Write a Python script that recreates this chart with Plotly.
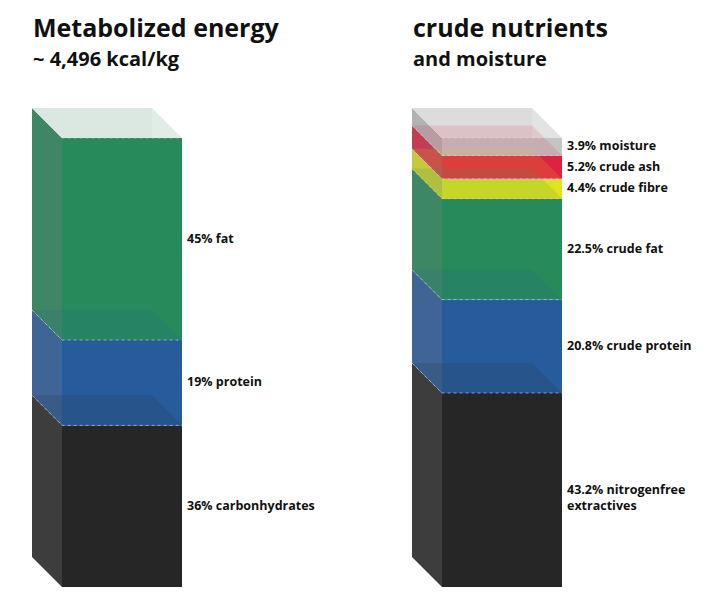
import numpy as np
import plotly.graph_objects as go

# Werte aus dem Bild (Prozent, von unten nach oben)
energy_labels = ["carbonhydrates", "protein", "fat"]
energy_values = [36, 19, 45]

nutrient_labels = ["nitrogenfree<br>extractives", "crude protein", "crude fat",
                   "crude fibre", "crude ash", "moisture"]
nutrient_values = [43.2, 20.8, 22.5, 4.4, 5.2, 3.9]

titles = ["Metabolized energy", "crude nutrients"]
subtitles = ["~ 4,496 kcal/kg", "and moisture"]

# Farben
energy_colors = ["#262626", "#275c9c", "#268a5a"]
nutrient_colors = ["#262626", "#275c9c", "#268a5a", "#dfe422", "#dc2440", "#c4c4c4"]

# Geometrie (x in Pixel, y in Prozent)
PX = 4.49           # Pixel pro Prozent
BAR_W = 120
DX = 30
DY = 30 / PX
TINT = 0.14
OFF = 8             # Body-Rand der HTML-Seite ausgleichen
W, H = 707, 607


def hex_rgb(c):
    c = c.lstrip("#")
    return [int(c[i:i + 2], 16) for i in (0, 2, 4)]


def side_color(c):
    # Seitenflaeche etwas in Richtung grau gemischt
    r, g, b = hex_rgb(c)
    return "rgb(%d,%d,%d)" % tuple(round(v + 0.26 * (128 - v)) for v in (r, g, b))


def poly(pts):
    return "M " + " L ".join("%.3f,%.3f" % p for p in pts) + " Z"


fig = go.Figure()


def draw_column(x0, values, colors, labels, lid, lid_light):
    x1 = x0 + BAR_W
    bounds = np.concatenate([[0], np.cumsum(values)])
    shapes = []

    # Seiten- und Frontflaechen
    for i in range(len(values)):
        lo, hi = bounds[i], bounds[i + 1]
        shapes.append(dict(type="path", fillcolor=side_color(colors[i]),
                           path=poly([(x0, lo + DY), (x0 + DX, lo), (x0 + DX, hi), (x0, hi + DY)])))
        shapes.append(dict(type="rect", fillcolor=colors[i],
                           x0=x0 + DX, x1=x1 + DX, y0=lo, y1=hi))

    # Deckel
    top = bounds[-1]
    shapes.append(dict(type="path", fillcolor=lid,
                       path=poly([(x0, top + DY), (x1, top + DY), (x1, top), (x0 + DX, top)])))
    shapes.append(dict(type="path", fillcolor=lid_light,
                       path=poly([(x1, top + DY), (x1 + DX, top), (x1, top)])))

    # durchscheinende Oberseiten der unteren Segmente
    for i in range(len(values) - 1):
        h = bounds[i + 1]
        r, g, b = hex_rgb(colors[i])
        shapes.append(dict(type="path", fillcolor="rgba(%d,%d,%d,%.2f)" % (r, g, b, TINT),
                           path=poly([(x0, h + DY), (x1, h + DY), (x1 + DX, h), (x0 + DX, h)])))

    for s in shapes:
        s.update(xref="x", yref="y", line=dict(width=0), layer="above")
        fig.add_shape(**s)

    # gepunktete Kanten
    for h in bounds[1:]:
        fig.add_shape(type="path", xref="x", yref="y", layer="above",
                      path="M %.3f,%.3f L %.3f,%.3f L %.3f,%.3f" % (x0, h + DY, x0 + DX, h, x1 + DX, h),
                      line=dict(color="rgba(215,215,215,0.6)", width=1, dash="dot"))

    # Beschriftungen
    for i in range(len(values)):
        mid = (bounds[i] + bounds[i + 1]) / 2
        fig.add_annotation(x=x1 + DX + 3, y=mid, xref="x", yref="y",
                           text="<b>%g%% %s</b>" % (values[i], labels[i]),
                           showarrow=False, xanchor="left", yanchor="middle", align="left",
                           yshift=-7 if "<br>" in labels[i] else 1,
                           font=dict(size=12.5, color="#111111"))


draw_column(32, energy_values, energy_colors, energy_labels, "#dbe8e2", "#e2ece7")
draw_column(412, nutrient_values, nutrient_colors, nutrient_labels, "#dcdcdc", "#e3e3e3")

for tx, title, sub in zip([31, 411], titles, subtitles):
    fig.add_annotation(x=(tx - OFF) / W, y=1 - (27 - OFF) / H, xref="paper", yref="paper",
                       text="<b>%s</b>" % title, showarrow=False,
                       xanchor="left", yanchor="middle", font=dict(size=25, color="#111111"))
    fig.add_annotation(x=(tx - OFF) / W, y=1 - (58 - OFF) / H, xref="paper", yref="paper",
                       text="<b>%s</b>" % sub, showarrow=False,
                       xanchor="left", yanchor="middle", font=dict(size=20, color="#111111"))

fig.update_layout(
    width=W, height=H,
    margin=dict(l=0, r=0, t=0, b=0),
    paper_bgcolor="white", plot_bgcolor="white",
    font=dict(family="Open Sans"),
    showlegend=False,
    xaxis=dict(range=[OFF, W + OFF], visible=False, fixedrange=True),
    yaxis=dict(range=[(587 - OFF - H) / PX, (587 - OFF) / PX], visible=False, fixedrange=True),
)

fig.write_html("out.html")
